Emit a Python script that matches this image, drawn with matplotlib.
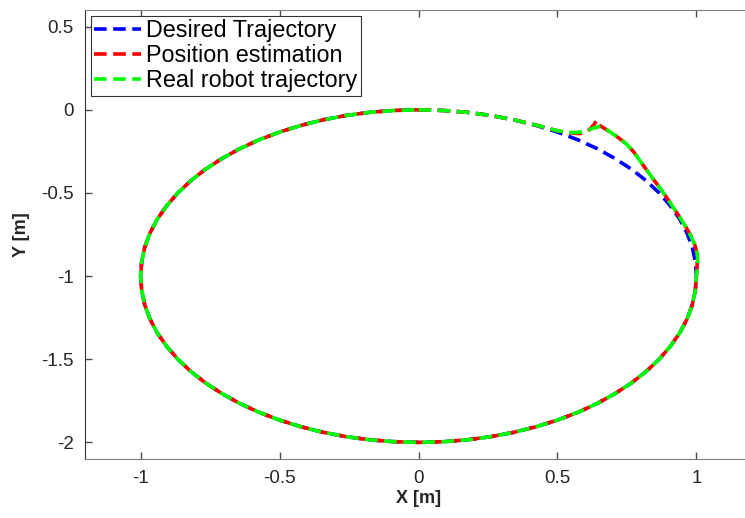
import matplotlib
matplotlib.use('Agg')
import matplotlib.pyplot as plt

plt.rcParams['font.family'] = ['Liberation Sans', 'DejaVu Sans']

# first quarter (top -> right), read every ~5 deg
des_q1_x = [0.0, 0.087, 0.174, 0.259, 0.342, 0.423, 0.5, 0.574, 0.643, 0.707, 0.766,
            0.819, 0.866, 0.906, 0.940, 0.966, 0.985, 0.996, 1.0]
des_q1_y = [0.0, -0.004, -0.015, -0.034, -0.060, -0.094, -0.134, -0.181, -0.234, -0.293, -0.357,
            -0.426, -0.5, -0.577, -0.658, -0.741, -0.826, -0.913, -1.0]

# position estimation (red): spike near x=0.64
est_q1_x = [0.0, 0.087, 0.174, 0.259, 0.342, 0.423, 0.5, 0.534, 0.560, 0.582, 0.605, 0.618,
            0.632, 0.642, 0.648, 0.653, 0.675, 0.701, 0.725, 0.749, 0.775, 0.797, 0.820, 0.845,
            0.870, 0.893, 0.918, 0.941, 0.960, 0.977, 0.992, 1.0, 1.003, 1.0]
est_q1_y = [0.0, -0.004, -0.015, -0.034, -0.060, -0.092, -0.126, -0.137, -0.141, -0.143, -0.132, -0.115,
            -0.088, -0.062, -0.080, -0.096, -0.118, -0.147, -0.175, -0.207, -0.255, -0.307, -0.360, -0.418,
            -0.473, -0.528, -0.590, -0.649, -0.700, -0.749, -0.800, -0.849, -0.925, -1.0]

# real robot trajectory (green): rounded bump
real_q1_x = [0.0, 0.087, 0.174, 0.259, 0.342, 0.423, 0.5, 0.534, 0.560, 0.585, 0.610, 0.630,
             0.648, 0.662, 0.680, 0.701, 0.725, 0.749, 0.775, 0.797, 0.820, 0.845,
             0.870, 0.893, 0.918, 0.941, 0.962, 0.980, 0.995, 1.003, 1.005, 1.0]
real_q1_y = [0.0, -0.004, -0.015, -0.034, -0.060, -0.092, -0.126, -0.135, -0.137, -0.134, -0.124, -0.110,
             -0.102, -0.104, -0.122, -0.147, -0.175, -0.207, -0.255, -0.307, -0.360, -0.418,
             -0.473, -0.528, -0.590, -0.649, -0.705, -0.760, -0.815, -0.865, -0.930, -1.0]

# rest of the loop (right -> bottom -> left -> top), common to all three
rest_x = [0.996, 0.985, 0.966, 0.940, 0.906, 0.866, 0.819, 0.766, 0.707, 0.643, 0.574, 0.5,
          0.423, 0.342, 0.259, 0.174, 0.087, 0.0,
          -0.087, -0.174, -0.259, -0.342, -0.423, -0.5, -0.574, -0.643, -0.707, -0.766, -0.819,
          -0.866, -0.906, -0.940, -0.966, -0.985, -0.996, -1.0,
          -0.996, -0.985, -0.966, -0.940, -0.906, -0.866, -0.819, -0.766, -0.707, -0.643, -0.574,
          -0.5, -0.423, -0.342, -0.259, -0.174, -0.087, 0.0]
rest_y = [-1.087, -1.174, -1.259, -1.342, -1.423, -1.5, -1.574, -1.643, -1.707, -1.766, -1.819, -1.866,
          -1.906, -1.940, -1.966, -1.985, -1.996, -2.0,
          -1.996, -1.985, -1.966, -1.940, -1.906, -1.866, -1.819, -1.766, -1.707, -1.643, -1.574,
          -1.5, -1.423, -1.342, -1.259, -1.174, -1.087, -1.0,
          -0.913, -0.826, -0.741, -0.658, -0.577, -0.5, -0.426, -0.357, -0.293, -0.234, -0.181,
          -0.134, -0.094, -0.060, -0.034, -0.015, -0.004, 0.0]

fig = plt.figure(figsize=(7.45, 5.18), dpi=100)
ax = fig.add_axes([0.1141, 0.1139, 0.8953, 0.8668])

lw = 2.6
dash = (0, (3.5, 1.8))
ax.plot(des_q1_x + rest_x, des_q1_y + rest_y, color="#0000FF", lw=lw, ls=dash,
        label="Desired Trajectory")
ax.plot(est_q1_x + rest_x, est_q1_y + rest_y, color="#FF0000", lw=lw, ls=dash,
        label="Position estimation")
ax.plot(real_q1_x + rest_x, real_q1_y + rest_y, color="#00FF00", lw=lw, ls=dash,
        label="Real robot trajectory")

ax.set_xlim(-1.2, 1.2)
ax.set_ylim(-2.1, 0.6)
ax.set_xticks([-1, -0.5, 0, 0.5, 1])
ax.set_xticklabels(["-1", "-0.5", "0", "0.5", "1"])
ax.set_yticks([0.5, 0, -0.5, -1, -1.5, -2])
ax.set_yticklabels(["0.5", "0", "-0.5", "-1", "-1.5", "-2"])
ax.tick_params(direction="in", top=True, right=True, length=5, width=1,
               labelsize=13.5, colors="0.3", labelcolor="0.15", pad=8)

for side in ["top", "bottom", "right"]:
    ax.spines[side].set_color("0.5")
ax.spines["left"].set_color("0.2")

ax.set_xlabel("X [m]", fontsize=13, fontweight="bold", color="0.15", labelpad=2)
ax.set_ylabel("Y [m]", fontsize=13, fontweight="bold", color="0.15", labelpad=8)

leg = ax.legend(loc="upper left", fontsize=16.8, handlelength=2.0, handletextpad=0.22,
                borderpad=0.15, labelspacing=0.08, borderaxespad=0.25, fancybox=False,
                framealpha=1)
leg.get_frame().set_edgecolor("0.2")
leg.get_frame().set_linewidth(0.8)

plt.savefig("out.png", dpi=100)
plt.close()
print("Saved out.png")
